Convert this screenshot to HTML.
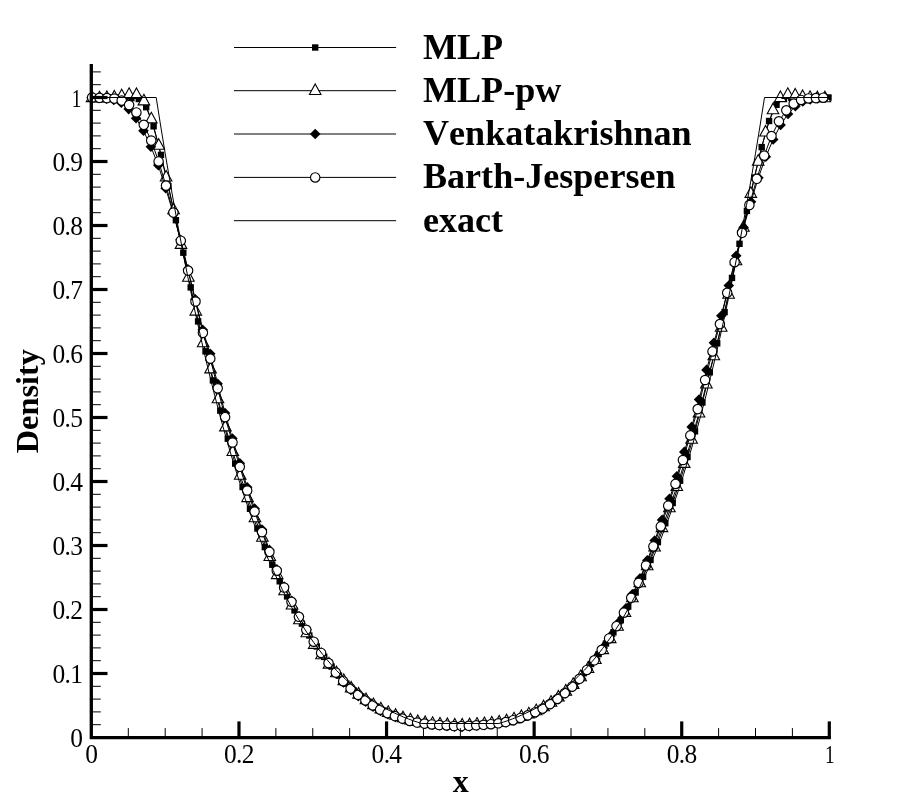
<!DOCTYPE html><html><head><meta charset="utf-8"><style>html,body{margin:0;padding:0;background:#fff}text{font-kerning:none}body{width:903px;height:803px;position:relative;overflow:hidden;font-family:"Liberation Serif",serif}</style></head><body>
<svg width="903" height="803" viewBox="0 0 903 803" style="position:absolute;left:0;top:0;will-change:transform">
<rect width="903" height="803" fill="#fff"/>
<polyline fill="none" stroke="#000" stroke-width="1" points="94.3,97.5 101.7,97.5 109.1,97.5 116.5,97.6 123.9,97.7 131.4,98.1 138.8,99.0 146.2,107.2 153.6,126.3 161.0,154.9 168.4,186.2 175.9,220.2 183.3,252.7 190.7,287.4 198.1,321.4 205.5,351.3 212.9,380.4 220.3,410.6 227.8,438.7 235.2,463.6 242.6,487.0 250.0,508.8 257.4,528.5 264.8,547.1 272.3,564.7 279.7,581.3 287.1,596.4 294.5,610.4 301.9,623.6 309.3,635.5 316.8,646.5 324.2,656.9 331.6,666.6 339.0,675.6 346.4,683.6 353.8,690.5 361.3,696.4 368.7,701.8 376.1,706.5 383.5,710.5 390.9,713.9 398.3,716.8 405.7,719.3 413.2,721.4 420.6,723.0 428.0,723.9 435.4,724.4 442.8,724.9 450.2,725.3 457.7,725.6 465.1,725.5 472.5,725.1 479.9,724.8 487.3,724.3 494.7,723.7 502.2,722.7 509.6,720.9 517.0,718.7 524.4,716.1 531.8,713.1 539.2,709.5 546.6,705.3 554.1,700.4 561.5,694.9 568.9,688.7 576.3,681.6 583.7,673.2 591.1,664.0 598.6,654.1 606.0,643.5 613.4,632.4 620.8,620.2 628.2,606.6 635.6,592.5 643.1,576.9 650.5,560.0 657.9,542.1 665.3,523.2 672.7,503.0 680.1,480.7 687.5,457.0 695.0,431.3 702.4,402.5 709.8,372.3 717.2,343.3 724.6,312.1 732.0,277.9 739.5,243.8 746.9,210.9 754.3,177.6 761.7,147.1 769.1,121.0 776.5,104.8 784.0,98.7 791.4,97.9 798.8,97.7 806.2,97.5 813.6,97.5 821.0,97.5 828.5,97.5"/>
<rect x="91.1" y="94.3" width="6.4" height="6.4" fill="#000"/>
<rect x="98.5" y="94.3" width="6.4" height="6.4" fill="#000"/>
<rect x="105.9" y="94.3" width="6.4" height="6.4" fill="#000"/>
<rect x="113.3" y="94.4" width="6.4" height="6.4" fill="#000"/>
<rect x="120.7" y="94.5" width="6.4" height="6.4" fill="#000"/>
<rect x="128.2" y="94.9" width="6.4" height="6.4" fill="#000"/>
<rect x="135.6" y="95.8" width="6.4" height="6.4" fill="#000"/>
<rect x="143.0" y="104.0" width="6.4" height="6.4" fill="#000"/>
<rect x="150.4" y="123.1" width="6.4" height="6.4" fill="#000"/>
<rect x="157.8" y="151.7" width="6.4" height="6.4" fill="#000"/>
<rect x="165.2" y="183.0" width="6.4" height="6.4" fill="#000"/>
<rect x="172.7" y="217.0" width="6.4" height="6.4" fill="#000"/>
<rect x="180.1" y="249.5" width="6.4" height="6.4" fill="#000"/>
<rect x="187.5" y="284.2" width="6.4" height="6.4" fill="#000"/>
<rect x="194.9" y="318.2" width="6.4" height="6.4" fill="#000"/>
<rect x="202.3" y="348.1" width="6.4" height="6.4" fill="#000"/>
<rect x="209.7" y="377.2" width="6.4" height="6.4" fill="#000"/>
<rect x="217.1" y="407.4" width="6.4" height="6.4" fill="#000"/>
<rect x="224.6" y="435.5" width="6.4" height="6.4" fill="#000"/>
<rect x="232.0" y="460.4" width="6.4" height="6.4" fill="#000"/>
<rect x="239.4" y="483.8" width="6.4" height="6.4" fill="#000"/>
<rect x="246.8" y="505.6" width="6.4" height="6.4" fill="#000"/>
<rect x="254.2" y="525.3" width="6.4" height="6.4" fill="#000"/>
<rect x="261.6" y="543.9" width="6.4" height="6.4" fill="#000"/>
<rect x="269.1" y="561.5" width="6.4" height="6.4" fill="#000"/>
<rect x="276.5" y="578.1" width="6.4" height="6.4" fill="#000"/>
<rect x="283.9" y="593.2" width="6.4" height="6.4" fill="#000"/>
<rect x="291.3" y="607.2" width="6.4" height="6.4" fill="#000"/>
<rect x="298.7" y="620.4" width="6.4" height="6.4" fill="#000"/>
<rect x="306.1" y="632.3" width="6.4" height="6.4" fill="#000"/>
<rect x="313.6" y="643.3" width="6.4" height="6.4" fill="#000"/>
<rect x="321.0" y="653.7" width="6.4" height="6.4" fill="#000"/>
<rect x="328.4" y="663.4" width="6.4" height="6.4" fill="#000"/>
<rect x="335.8" y="672.4" width="6.4" height="6.4" fill="#000"/>
<rect x="343.2" y="680.4" width="6.4" height="6.4" fill="#000"/>
<rect x="350.6" y="687.3" width="6.4" height="6.4" fill="#000"/>
<rect x="358.1" y="693.2" width="6.4" height="6.4" fill="#000"/>
<rect x="365.5" y="698.6" width="6.4" height="6.4" fill="#000"/>
<rect x="372.9" y="703.3" width="6.4" height="6.4" fill="#000"/>
<rect x="380.3" y="707.3" width="6.4" height="6.4" fill="#000"/>
<rect x="387.7" y="710.7" width="6.4" height="6.4" fill="#000"/>
<rect x="395.1" y="713.6" width="6.4" height="6.4" fill="#000"/>
<rect x="402.5" y="716.1" width="6.4" height="6.4" fill="#000"/>
<rect x="410.0" y="718.2" width="6.4" height="6.4" fill="#000"/>
<rect x="417.4" y="719.8" width="6.4" height="6.4" fill="#000"/>
<rect x="424.8" y="720.7" width="6.4" height="6.4" fill="#000"/>
<rect x="432.2" y="721.2" width="6.4" height="6.4" fill="#000"/>
<rect x="439.6" y="721.7" width="6.4" height="6.4" fill="#000"/>
<rect x="447.0" y="722.1" width="6.4" height="6.4" fill="#000"/>
<rect x="454.5" y="722.4" width="6.4" height="6.4" fill="#000"/>
<rect x="461.9" y="722.3" width="6.4" height="6.4" fill="#000"/>
<rect x="469.3" y="721.9" width="6.4" height="6.4" fill="#000"/>
<rect x="476.7" y="721.6" width="6.4" height="6.4" fill="#000"/>
<rect x="484.1" y="721.1" width="6.4" height="6.4" fill="#000"/>
<rect x="491.5" y="720.5" width="6.4" height="6.4" fill="#000"/>
<rect x="499.0" y="719.5" width="6.4" height="6.4" fill="#000"/>
<rect x="506.4" y="717.7" width="6.4" height="6.4" fill="#000"/>
<rect x="513.8" y="715.5" width="6.4" height="6.4" fill="#000"/>
<rect x="521.2" y="712.9" width="6.4" height="6.4" fill="#000"/>
<rect x="528.6" y="709.9" width="6.4" height="6.4" fill="#000"/>
<rect x="536.0" y="706.3" width="6.4" height="6.4" fill="#000"/>
<rect x="543.4" y="702.1" width="6.4" height="6.4" fill="#000"/>
<rect x="550.9" y="697.2" width="6.4" height="6.4" fill="#000"/>
<rect x="558.3" y="691.7" width="6.4" height="6.4" fill="#000"/>
<rect x="565.7" y="685.5" width="6.4" height="6.4" fill="#000"/>
<rect x="573.1" y="678.4" width="6.4" height="6.4" fill="#000"/>
<rect x="580.5" y="670.0" width="6.4" height="6.4" fill="#000"/>
<rect x="587.9" y="660.8" width="6.4" height="6.4" fill="#000"/>
<rect x="595.4" y="650.9" width="6.4" height="6.4" fill="#000"/>
<rect x="602.8" y="640.3" width="6.4" height="6.4" fill="#000"/>
<rect x="610.2" y="629.2" width="6.4" height="6.4" fill="#000"/>
<rect x="617.6" y="617.0" width="6.4" height="6.4" fill="#000"/>
<rect x="625.0" y="603.4" width="6.4" height="6.4" fill="#000"/>
<rect x="632.4" y="589.3" width="6.4" height="6.4" fill="#000"/>
<rect x="639.9" y="573.7" width="6.4" height="6.4" fill="#000"/>
<rect x="647.3" y="556.8" width="6.4" height="6.4" fill="#000"/>
<rect x="654.7" y="538.9" width="6.4" height="6.4" fill="#000"/>
<rect x="662.1" y="520.0" width="6.4" height="6.4" fill="#000"/>
<rect x="669.5" y="499.8" width="6.4" height="6.4" fill="#000"/>
<rect x="676.9" y="477.5" width="6.4" height="6.4" fill="#000"/>
<rect x="684.3" y="453.8" width="6.4" height="6.4" fill="#000"/>
<rect x="691.8" y="428.1" width="6.4" height="6.4" fill="#000"/>
<rect x="699.2" y="399.3" width="6.4" height="6.4" fill="#000"/>
<rect x="706.6" y="369.1" width="6.4" height="6.4" fill="#000"/>
<rect x="714.0" y="340.1" width="6.4" height="6.4" fill="#000"/>
<rect x="721.4" y="308.9" width="6.4" height="6.4" fill="#000"/>
<rect x="728.8" y="274.7" width="6.4" height="6.4" fill="#000"/>
<rect x="736.3" y="240.6" width="6.4" height="6.4" fill="#000"/>
<rect x="743.7" y="207.7" width="6.4" height="6.4" fill="#000"/>
<rect x="751.1" y="174.4" width="6.4" height="6.4" fill="#000"/>
<rect x="758.5" y="143.9" width="6.4" height="6.4" fill="#000"/>
<rect x="765.9" y="117.8" width="6.4" height="6.4" fill="#000"/>
<rect x="773.3" y="101.6" width="6.4" height="6.4" fill="#000"/>
<rect x="780.8" y="95.5" width="6.4" height="6.4" fill="#000"/>
<rect x="788.2" y="94.7" width="6.4" height="6.4" fill="#000"/>
<rect x="795.6" y="94.5" width="6.4" height="6.4" fill="#000"/>
<rect x="803.0" y="94.3" width="6.4" height="6.4" fill="#000"/>
<rect x="810.4" y="94.3" width="6.4" height="6.4" fill="#000"/>
<rect x="817.8" y="94.3" width="6.4" height="6.4" fill="#000"/>
<rect x="825.3" y="94.3" width="6.4" height="6.4" fill="#000"/>
<polyline fill="none" stroke="#000" stroke-width="1" points="92.1,97.8 99.5,98.1 106.9,97.8 114.3,97.3 121.7,96.0 129.1,94.6 136.5,94.7 143.9,101.1 151.3,119.1 158.7,145.5 166.1,177.2 173.6,210.0 181.0,244.6 188.4,277.4 195.8,311.3 203.2,343.0 210.6,369.1 218.0,399.0 225.4,427.1 232.8,451.7 240.2,475.4 247.6,497.8 255.0,518.0 262.4,537.5 269.8,556.7 277.2,574.8 284.6,590.9 292.0,605.2 299.4,620.0 306.8,632.9 314.2,644.6 321.6,655.0 329.0,664.3 336.4,672.9 343.8,680.8 351.2,688.2 358.6,694.3 366.0,699.9 373.4,704.9 380.8,709.1 388.2,712.6 395.6,715.5 403.0,718.0 410.4,720.1 417.8,721.7 425.2,722.8 432.6,723.6 440.0,724.2 447.4,724.7 454.8,725.2 462.2,725.3 469.6,725.0 477.0,724.4 484.4,723.9 491.8,723.2 499.2,722.3 506.6,721.0 514.0,719.1 521.4,716.7 528.8,714.1 536.2,710.9 543.6,707.0 551.0,702.4 558.4,697.2 565.8,691.3 573.2,684.6 580.6,676.9 588.0,668.7 595.4,659.7 602.8,649.8 610.2,638.8 617.6,626.5 625.0,612.7 632.4,598.0 639.8,583.0 647.2,565.9 654.6,547.2 662.0,527.8 669.4,508.0 676.8,486.7 684.2,463.6 691.6,439.4 699.0,413.2 706.4,384.2 713.8,356.0 721.2,327.4 728.6,294.4 736.0,261.0 743.4,227.4 750.8,193.6 758.2,161.4 765.6,132.2 773.0,110.0 780.4,97.8 787.8,94.6 795.2,95.3 802.6,96.7 810.0,97.6 817.4,98.0 824.9,98.0"/>
<path d="M92.1 91.0L97.9 101.6L86.3 101.6Z" fill="#fff" stroke="#000" stroke-width="1.1"/>
<path d="M99.5 91.3L105.3 101.9L93.7 101.9Z" fill="#fff" stroke="#000" stroke-width="1.1"/>
<path d="M106.9 91.0L112.7 101.6L101.1 101.6Z" fill="#fff" stroke="#000" stroke-width="1.1"/>
<path d="M114.3 90.5L120.1 101.1L108.5 101.1Z" fill="#fff" stroke="#000" stroke-width="1.1"/>
<path d="M121.7 89.2L127.5 99.8L115.9 99.8Z" fill="#fff" stroke="#000" stroke-width="1.1"/>
<path d="M129.1 87.8L134.9 98.4L123.3 98.4Z" fill="#fff" stroke="#000" stroke-width="1.1"/>
<path d="M136.5 87.9L142.3 98.5L130.7 98.5Z" fill="#fff" stroke="#000" stroke-width="1.1"/>
<path d="M143.9 94.3L149.7 104.9L138.1 104.9Z" fill="#fff" stroke="#000" stroke-width="1.1"/>
<path d="M151.3 112.3L157.1 122.9L145.5 122.9Z" fill="#fff" stroke="#000" stroke-width="1.1"/>
<path d="M158.7 138.7L164.5 149.3L152.9 149.3Z" fill="#fff" stroke="#000" stroke-width="1.1"/>
<path d="M166.1 170.4L171.9 181.0L160.3 181.0Z" fill="#fff" stroke="#000" stroke-width="1.1"/>
<path d="M173.6 203.2L179.4 213.8L167.8 213.8Z" fill="#fff" stroke="#000" stroke-width="1.1"/>
<path d="M181.0 237.8L186.8 248.4L175.2 248.4Z" fill="#fff" stroke="#000" stroke-width="1.1"/>
<path d="M188.4 270.6L194.2 281.2L182.6 281.2Z" fill="#fff" stroke="#000" stroke-width="1.1"/>
<path d="M195.8 304.5L201.6 315.1L190.0 315.1Z" fill="#fff" stroke="#000" stroke-width="1.1"/>
<path d="M203.2 336.2L209.0 346.8L197.4 346.8Z" fill="#fff" stroke="#000" stroke-width="1.1"/>
<path d="M210.6 362.3L216.4 372.9L204.8 372.9Z" fill="#fff" stroke="#000" stroke-width="1.1"/>
<path d="M218.0 392.2L223.8 402.8L212.2 402.8Z" fill="#fff" stroke="#000" stroke-width="1.1"/>
<path d="M225.4 420.3L231.2 430.9L219.6 430.9Z" fill="#fff" stroke="#000" stroke-width="1.1"/>
<path d="M232.8 444.9L238.6 455.5L227.0 455.5Z" fill="#fff" stroke="#000" stroke-width="1.1"/>
<path d="M240.2 468.6L246.0 479.2L234.4 479.2Z" fill="#fff" stroke="#000" stroke-width="1.1"/>
<path d="M247.6 491.0L253.4 501.6L241.8 501.6Z" fill="#fff" stroke="#000" stroke-width="1.1"/>
<path d="M255.0 511.2L260.8 521.8L249.2 521.8Z" fill="#fff" stroke="#000" stroke-width="1.1"/>
<path d="M262.4 530.7L268.2 541.3L256.6 541.3Z" fill="#fff" stroke="#000" stroke-width="1.1"/>
<path d="M269.8 549.9L275.6 560.5L264.0 560.5Z" fill="#fff" stroke="#000" stroke-width="1.1"/>
<path d="M277.2 568.0L283.0 578.6L271.4 578.6Z" fill="#fff" stroke="#000" stroke-width="1.1"/>
<path d="M284.6 584.1L290.4 594.7L278.8 594.7Z" fill="#fff" stroke="#000" stroke-width="1.1"/>
<path d="M292.0 598.4L297.8 609.0L286.2 609.0Z" fill="#fff" stroke="#000" stroke-width="1.1"/>
<path d="M299.4 613.2L305.2 623.8L293.6 623.8Z" fill="#fff" stroke="#000" stroke-width="1.1"/>
<path d="M306.8 626.1L312.6 636.7L301.0 636.7Z" fill="#fff" stroke="#000" stroke-width="1.1"/>
<path d="M314.2 637.8L320.0 648.4L308.4 648.4Z" fill="#fff" stroke="#000" stroke-width="1.1"/>
<path d="M321.6 648.2L327.4 658.8L315.8 658.8Z" fill="#fff" stroke="#000" stroke-width="1.1"/>
<path d="M329.0 657.5L334.8 668.1L323.2 668.1Z" fill="#fff" stroke="#000" stroke-width="1.1"/>
<path d="M336.4 666.1L342.2 676.7L330.6 676.7Z" fill="#fff" stroke="#000" stroke-width="1.1"/>
<path d="M343.8 674.0L349.6 684.6L338.0 684.6Z" fill="#fff" stroke="#000" stroke-width="1.1"/>
<path d="M351.2 681.4L357.0 692.0L345.4 692.0Z" fill="#fff" stroke="#000" stroke-width="1.1"/>
<path d="M358.6 687.5L364.4 698.1L352.8 698.1Z" fill="#fff" stroke="#000" stroke-width="1.1"/>
<path d="M366.0 693.1L371.8 703.7L360.2 703.7Z" fill="#fff" stroke="#000" stroke-width="1.1"/>
<path d="M373.4 698.1L379.2 708.7L367.6 708.7Z" fill="#fff" stroke="#000" stroke-width="1.1"/>
<path d="M380.8 702.3L386.6 712.9L375.0 712.9Z" fill="#fff" stroke="#000" stroke-width="1.1"/>
<path d="M388.2 705.8L394.0 716.4L382.4 716.4Z" fill="#fff" stroke="#000" stroke-width="1.1"/>
<path d="M395.6 708.7L401.4 719.3L389.8 719.3Z" fill="#fff" stroke="#000" stroke-width="1.1"/>
<path d="M403.0 711.2L408.8 721.8L397.2 721.8Z" fill="#fff" stroke="#000" stroke-width="1.1"/>
<path d="M410.4 713.3L416.2 723.9L404.6 723.9Z" fill="#fff" stroke="#000" stroke-width="1.1"/>
<path d="M417.8 714.9L423.6 725.5L412.0 725.5Z" fill="#fff" stroke="#000" stroke-width="1.1"/>
<path d="M425.2 716.0L431.0 726.6L419.4 726.6Z" fill="#fff" stroke="#000" stroke-width="1.1"/>
<path d="M432.6 716.8L438.4 727.4L426.8 727.4Z" fill="#fff" stroke="#000" stroke-width="1.1"/>
<path d="M440.0 717.4L445.8 728.0L434.2 728.0Z" fill="#fff" stroke="#000" stroke-width="1.1"/>
<path d="M447.4 717.9L453.2 728.5L441.6 728.5Z" fill="#fff" stroke="#000" stroke-width="1.1"/>
<path d="M454.8 718.4L460.6 729.0L449.0 729.0Z" fill="#fff" stroke="#000" stroke-width="1.1"/>
<path d="M462.2 718.5L468.0 729.1L456.4 729.1Z" fill="#fff" stroke="#000" stroke-width="1.1"/>
<path d="M469.6 718.2L475.4 728.8L463.8 728.8Z" fill="#fff" stroke="#000" stroke-width="1.1"/>
<path d="M477.0 717.6L482.8 728.2L471.2 728.2Z" fill="#fff" stroke="#000" stroke-width="1.1"/>
<path d="M484.4 717.1L490.2 727.7L478.6 727.7Z" fill="#fff" stroke="#000" stroke-width="1.1"/>
<path d="M491.8 716.4L497.6 727.0L486.0 727.0Z" fill="#fff" stroke="#000" stroke-width="1.1"/>
<path d="M499.2 715.5L505.0 726.1L493.4 726.1Z" fill="#fff" stroke="#000" stroke-width="1.1"/>
<path d="M506.6 714.2L512.4 724.8L500.8 724.8Z" fill="#fff" stroke="#000" stroke-width="1.1"/>
<path d="M514.0 712.3L519.8 722.9L508.2 722.9Z" fill="#fff" stroke="#000" stroke-width="1.1"/>
<path d="M521.4 709.9L527.2 720.5L515.6 720.5Z" fill="#fff" stroke="#000" stroke-width="1.1"/>
<path d="M528.8 707.3L534.6 717.9L523.0 717.9Z" fill="#fff" stroke="#000" stroke-width="1.1"/>
<path d="M536.2 704.1L542.0 714.7L530.4 714.7Z" fill="#fff" stroke="#000" stroke-width="1.1"/>
<path d="M543.6 700.2L549.4 710.8L537.8 710.8Z" fill="#fff" stroke="#000" stroke-width="1.1"/>
<path d="M551.0 695.6L556.8 706.2L545.2 706.2Z" fill="#fff" stroke="#000" stroke-width="1.1"/>
<path d="M558.4 690.4L564.2 701.0L552.6 701.0Z" fill="#fff" stroke="#000" stroke-width="1.1"/>
<path d="M565.8 684.5L571.6 695.1L560.0 695.1Z" fill="#fff" stroke="#000" stroke-width="1.1"/>
<path d="M573.2 677.8L579.0 688.4L567.4 688.4Z" fill="#fff" stroke="#000" stroke-width="1.1"/>
<path d="M580.6 670.1L586.4 680.7L574.8 680.7Z" fill="#fff" stroke="#000" stroke-width="1.1"/>
<path d="M588.0 661.9L593.8 672.5L582.2 672.5Z" fill="#fff" stroke="#000" stroke-width="1.1"/>
<path d="M595.4 652.9L601.2 663.5L589.6 663.5Z" fill="#fff" stroke="#000" stroke-width="1.1"/>
<path d="M602.8 643.0L608.6 653.6L597.0 653.6Z" fill="#fff" stroke="#000" stroke-width="1.1"/>
<path d="M610.2 632.0L616.0 642.6L604.4 642.6Z" fill="#fff" stroke="#000" stroke-width="1.1"/>
<path d="M617.6 619.7L623.4 630.3L611.8 630.3Z" fill="#fff" stroke="#000" stroke-width="1.1"/>
<path d="M625.0 605.9L630.8 616.5L619.2 616.5Z" fill="#fff" stroke="#000" stroke-width="1.1"/>
<path d="M632.4 591.2L638.2 601.8L626.6 601.8Z" fill="#fff" stroke="#000" stroke-width="1.1"/>
<path d="M639.8 576.2L645.6 586.8L634.0 586.8Z" fill="#fff" stroke="#000" stroke-width="1.1"/>
<path d="M647.2 559.1L653.0 569.7L641.4 569.7Z" fill="#fff" stroke="#000" stroke-width="1.1"/>
<path d="M654.6 540.4L660.4 551.0L648.8 551.0Z" fill="#fff" stroke="#000" stroke-width="1.1"/>
<path d="M662.0 521.0L667.8 531.6L656.2 531.6Z" fill="#fff" stroke="#000" stroke-width="1.1"/>
<path d="M669.4 501.2L675.2 511.8L663.6 511.8Z" fill="#fff" stroke="#000" stroke-width="1.1"/>
<path d="M676.8 479.9L682.6 490.5L671.0 490.5Z" fill="#fff" stroke="#000" stroke-width="1.1"/>
<path d="M684.2 456.8L690.0 467.4L678.4 467.4Z" fill="#fff" stroke="#000" stroke-width="1.1"/>
<path d="M691.6 432.6L697.4 443.2L685.8 443.2Z" fill="#fff" stroke="#000" stroke-width="1.1"/>
<path d="M699.0 406.4L704.8 417.0L693.2 417.0Z" fill="#fff" stroke="#000" stroke-width="1.1"/>
<path d="M706.4 377.4L712.2 388.0L700.6 388.0Z" fill="#fff" stroke="#000" stroke-width="1.1"/>
<path d="M713.8 349.2L719.6 359.8L708.0 359.8Z" fill="#fff" stroke="#000" stroke-width="1.1"/>
<path d="M721.2 320.6L727.0 331.2L715.4 331.2Z" fill="#fff" stroke="#000" stroke-width="1.1"/>
<path d="M728.6 287.6L734.4 298.2L722.8 298.2Z" fill="#fff" stroke="#000" stroke-width="1.1"/>
<path d="M736.0 254.2L741.8 264.8L730.2 264.8Z" fill="#fff" stroke="#000" stroke-width="1.1"/>
<path d="M743.4 220.6L749.2 231.2L737.6 231.2Z" fill="#fff" stroke="#000" stroke-width="1.1"/>
<path d="M750.8 186.8L756.6 197.4L745.0 197.4Z" fill="#fff" stroke="#000" stroke-width="1.1"/>
<path d="M758.2 154.6L764.0 165.2L752.4 165.2Z" fill="#fff" stroke="#000" stroke-width="1.1"/>
<path d="M765.6 125.4L771.4 136.0L759.8 136.0Z" fill="#fff" stroke="#000" stroke-width="1.1"/>
<path d="M773.0 103.2L778.8 113.8L767.2 113.8Z" fill="#fff" stroke="#000" stroke-width="1.1"/>
<path d="M780.4 91.0L786.2 101.6L774.6 101.6Z" fill="#fff" stroke="#000" stroke-width="1.1"/>
<path d="M787.8 87.8L793.6 98.4L782.0 98.4Z" fill="#fff" stroke="#000" stroke-width="1.1"/>
<path d="M795.2 88.5L801.0 99.1L789.4 99.1Z" fill="#fff" stroke="#000" stroke-width="1.1"/>
<path d="M802.6 89.9L808.4 100.5L796.8 100.5Z" fill="#fff" stroke="#000" stroke-width="1.1"/>
<path d="M810.0 90.8L815.8 101.4L804.2 101.4Z" fill="#fff" stroke="#000" stroke-width="1.1"/>
<path d="M817.4 91.2L823.2 101.8L811.6 101.8Z" fill="#fff" stroke="#000" stroke-width="1.1"/>
<path d="M824.9 91.2L830.7 101.8L819.1 101.8Z" fill="#fff" stroke="#000" stroke-width="1.1"/>
<polyline fill="none" stroke="#000" stroke-width="1" points="91.6,97.5 99.0,98.1 106.4,98.7 113.8,100.0 121.3,102.8 128.7,109.1 136.1,118.3 143.5,130.8 150.9,146.7 158.3,165.3 165.7,188.3 173.1,213.0 180.5,239.8 187.9,269.3 195.3,299.3 202.7,329.8 210.2,353.8 217.6,383.7 225.0,413.1 232.4,438.6 239.8,463.2 247.2,487.3 254.6,508.6 262.0,529.5 269.4,549.9 276.8,569.3 284.2,586.5 291.7,600.9 299.1,616.4 306.5,629.7 313.9,641.9 321.3,653.3 328.7,663.8 336.1,673.5 343.5,682.4 350.9,690.0 358.3,696.2 365.7,701.8 373.1,706.8 380.6,711.0 388.0,714.3 395.4,717.0 402.8,719.3 410.2,721.3 417.6,722.7 425.0,723.7 432.4,724.7 439.8,725.4 447.2,726.0 454.6,726.7 462.0,726.9 469.5,726.5 476.9,725.8 484.3,725.1 491.7,724.3 499.1,723.1 506.5,722.1 513.9,720.4 521.3,718.3 528.7,715.8 536.1,712.8 543.5,709.1 550.9,704.5 558.4,699.2 565.8,693.4 573.2,686.6 580.6,678.4 588.0,669.1 595.4,659.0 602.8,648.1 610.2,636.3 617.6,623.6 625.0,609.4 632.4,594.3 639.9,578.6 647.3,560.4 654.7,540.5 662.1,519.9 669.5,498.8 676.9,476.2 684.3,451.9 691.7,426.9 699.1,399.6 706.5,369.9 713.9,342.8 721.3,315.8 728.8,285.6 736.2,255.8 743.6,227.5 751.0,201.7 758.4,177.7 765.8,156.8 773.2,139.4 780.6,125.0 788.0,114.0 795.4,106.2 802.8,101.5 810.2,99.4 817.7,98.4 825.1,97.8"/>
<path d="M91.6 92.2L96.9 97.5L91.6 102.8L86.3 97.5Z" fill="#000"/>
<path d="M99.0 92.8L104.3 98.1L99.0 103.4L93.7 98.1Z" fill="#000"/>
<path d="M106.4 93.4L111.7 98.7L106.4 104.0L101.1 98.7Z" fill="#000"/>
<path d="M113.8 94.7L119.1 100.0L113.8 105.3L108.5 100.0Z" fill="#000"/>
<path d="M121.3 97.5L126.6 102.8L121.3 108.1L116.0 102.8Z" fill="#000"/>
<path d="M128.7 103.8L134.0 109.1L128.7 114.4L123.4 109.1Z" fill="#000"/>
<path d="M136.1 113.0L141.4 118.3L136.1 123.6L130.8 118.3Z" fill="#000"/>
<path d="M143.5 125.5L148.8 130.8L143.5 136.1L138.2 130.8Z" fill="#000"/>
<path d="M150.9 141.4L156.2 146.7L150.9 152.0L145.6 146.7Z" fill="#000"/>
<path d="M158.3 160.0L163.6 165.3L158.3 170.6L153.0 165.3Z" fill="#000"/>
<path d="M165.7 183.0L171.0 188.3L165.7 193.6L160.4 188.3Z" fill="#000"/>
<path d="M173.1 207.7L178.4 213.0L173.1 218.3L167.8 213.0Z" fill="#000"/>
<path d="M180.5 234.5L185.8 239.8L180.5 245.1L175.2 239.8Z" fill="#000"/>
<path d="M187.9 264.0L193.2 269.3L187.9 274.6L182.6 269.3Z" fill="#000"/>
<path d="M195.3 294.0L200.6 299.3L195.3 304.6L190.0 299.3Z" fill="#000"/>
<path d="M202.7 324.5L208.0 329.8L202.7 335.1L197.4 329.8Z" fill="#000"/>
<path d="M210.2 348.5L215.5 353.8L210.2 359.1L204.9 353.8Z" fill="#000"/>
<path d="M217.6 378.4L222.9 383.7L217.6 389.0L212.3 383.7Z" fill="#000"/>
<path d="M225.0 407.8L230.3 413.1L225.0 418.4L219.7 413.1Z" fill="#000"/>
<path d="M232.4 433.3L237.7 438.6L232.4 443.9L227.1 438.6Z" fill="#000"/>
<path d="M239.8 457.9L245.1 463.2L239.8 468.5L234.5 463.2Z" fill="#000"/>
<path d="M247.2 482.0L252.5 487.3L247.2 492.6L241.9 487.3Z" fill="#000"/>
<path d="M254.6 503.3L259.9 508.6L254.6 513.9L249.3 508.6Z" fill="#000"/>
<path d="M262.0 524.2L267.3 529.5L262.0 534.8L256.7 529.5Z" fill="#000"/>
<path d="M269.4 544.6L274.7 549.9L269.4 555.2L264.1 549.9Z" fill="#000"/>
<path d="M276.8 564.0L282.1 569.3L276.8 574.6L271.5 569.3Z" fill="#000"/>
<path d="M284.2 581.2L289.5 586.5L284.2 591.8L278.9 586.5Z" fill="#000"/>
<path d="M291.7 595.6L297.0 600.9L291.7 606.2L286.4 600.9Z" fill="#000"/>
<path d="M299.1 611.1L304.4 616.4L299.1 621.7L293.8 616.4Z" fill="#000"/>
<path d="M306.5 624.4L311.8 629.7L306.5 635.0L301.2 629.7Z" fill="#000"/>
<path d="M313.9 636.6L319.2 641.9L313.9 647.2L308.6 641.9Z" fill="#000"/>
<path d="M321.3 648.0L326.6 653.3L321.3 658.6L316.0 653.3Z" fill="#000"/>
<path d="M328.7 658.5L334.0 663.8L328.7 669.1L323.4 663.8Z" fill="#000"/>
<path d="M336.1 668.2L341.4 673.5L336.1 678.8L330.8 673.5Z" fill="#000"/>
<path d="M343.5 677.1L348.8 682.4L343.5 687.7L338.2 682.4Z" fill="#000"/>
<path d="M350.9 684.7L356.2 690.0L350.9 695.3L345.6 690.0Z" fill="#000"/>
<path d="M358.3 690.9L363.6 696.2L358.3 701.5L353.0 696.2Z" fill="#000"/>
<path d="M365.7 696.5L371.0 701.8L365.7 707.1L360.4 701.8Z" fill="#000"/>
<path d="M373.1 701.5L378.4 706.8L373.1 712.1L367.8 706.8Z" fill="#000"/>
<path d="M380.6 705.7L385.9 711.0L380.6 716.3L375.3 711.0Z" fill="#000"/>
<path d="M388.0 709.0L393.3 714.3L388.0 719.6L382.7 714.3Z" fill="#000"/>
<path d="M395.4 711.7L400.7 717.0L395.4 722.3L390.1 717.0Z" fill="#000"/>
<path d="M402.8 714.0L408.1 719.3L402.8 724.6L397.5 719.3Z" fill="#000"/>
<path d="M410.2 716.0L415.5 721.3L410.2 726.6L404.9 721.3Z" fill="#000"/>
<path d="M417.6 717.4L422.9 722.7L417.6 728.0L412.3 722.7Z" fill="#000"/>
<path d="M425.0 718.4L430.3 723.7L425.0 729.0L419.7 723.7Z" fill="#000"/>
<path d="M432.4 719.4L437.7 724.7L432.4 730.0L427.1 724.7Z" fill="#000"/>
<path d="M439.8 720.1L445.1 725.4L439.8 730.7L434.5 725.4Z" fill="#000"/>
<path d="M447.2 720.7L452.5 726.0L447.2 731.3L441.9 726.0Z" fill="#000"/>
<path d="M454.6 721.4L459.9 726.7L454.6 732.0L449.3 726.7Z" fill="#000"/>
<path d="M462.0 721.6L467.3 726.9L462.0 732.2L456.7 726.9Z" fill="#000"/>
<path d="M469.5 721.2L474.8 726.5L469.5 731.8L464.2 726.5Z" fill="#000"/>
<path d="M476.9 720.5L482.2 725.8L476.9 731.1L471.6 725.8Z" fill="#000"/>
<path d="M484.3 719.8L489.6 725.1L484.3 730.4L479.0 725.1Z" fill="#000"/>
<path d="M491.7 719.0L497.0 724.3L491.7 729.6L486.4 724.3Z" fill="#000"/>
<path d="M499.1 717.8L504.4 723.1L499.1 728.4L493.8 723.1Z" fill="#000"/>
<path d="M506.5 716.8L511.8 722.1L506.5 727.4L501.2 722.1Z" fill="#000"/>
<path d="M513.9 715.1L519.2 720.4L513.9 725.7L508.6 720.4Z" fill="#000"/>
<path d="M521.3 713.0L526.6 718.3L521.3 723.6L516.0 718.3Z" fill="#000"/>
<path d="M528.7 710.5L534.0 715.8L528.7 721.1L523.4 715.8Z" fill="#000"/>
<path d="M536.1 707.5L541.4 712.8L536.1 718.1L530.8 712.8Z" fill="#000"/>
<path d="M543.5 703.8L548.8 709.1L543.5 714.4L538.2 709.1Z" fill="#000"/>
<path d="M550.9 699.2L556.2 704.5L550.9 709.8L545.6 704.5Z" fill="#000"/>
<path d="M558.4 693.9L563.7 699.2L558.4 704.5L553.1 699.2Z" fill="#000"/>
<path d="M565.8 688.1L571.1 693.4L565.8 698.7L560.5 693.4Z" fill="#000"/>
<path d="M573.2 681.3L578.5 686.6L573.2 691.9L567.9 686.6Z" fill="#000"/>
<path d="M580.6 673.1L585.9 678.4L580.6 683.7L575.3 678.4Z" fill="#000"/>
<path d="M588.0 663.8L593.3 669.1L588.0 674.4L582.7 669.1Z" fill="#000"/>
<path d="M595.4 653.7L600.7 659.0L595.4 664.3L590.1 659.0Z" fill="#000"/>
<path d="M602.8 642.8L608.1 648.1L602.8 653.4L597.5 648.1Z" fill="#000"/>
<path d="M610.2 631.0L615.5 636.3L610.2 641.6L604.9 636.3Z" fill="#000"/>
<path d="M617.6 618.3L622.9 623.6L617.6 628.9L612.3 623.6Z" fill="#000"/>
<path d="M625.0 604.1L630.3 609.4L625.0 614.7L619.7 609.4Z" fill="#000"/>
<path d="M632.4 589.0L637.7 594.3L632.4 599.6L627.1 594.3Z" fill="#000"/>
<path d="M639.9 573.3L645.2 578.6L639.9 583.9L634.6 578.6Z" fill="#000"/>
<path d="M647.3 555.1L652.6 560.4L647.3 565.7L642.0 560.4Z" fill="#000"/>
<path d="M654.7 535.2L660.0 540.5L654.7 545.8L649.4 540.5Z" fill="#000"/>
<path d="M662.1 514.6L667.4 519.9L662.1 525.2L656.8 519.9Z" fill="#000"/>
<path d="M669.5 493.5L674.8 498.8L669.5 504.1L664.2 498.8Z" fill="#000"/>
<path d="M676.9 470.9L682.2 476.2L676.9 481.5L671.6 476.2Z" fill="#000"/>
<path d="M684.3 446.6L689.6 451.9L684.3 457.2L679.0 451.9Z" fill="#000"/>
<path d="M691.7 421.6L697.0 426.9L691.7 432.2L686.4 426.9Z" fill="#000"/>
<path d="M699.1 394.3L704.4 399.6L699.1 404.9L693.8 399.6Z" fill="#000"/>
<path d="M706.5 364.6L711.8 369.9L706.5 375.2L701.2 369.9Z" fill="#000"/>
<path d="M713.9 337.5L719.2 342.8L713.9 348.1L708.6 342.8Z" fill="#000"/>
<path d="M721.3 310.5L726.6 315.8L721.3 321.1L716.0 315.8Z" fill="#000"/>
<path d="M728.8 280.3L734.1 285.6L728.8 290.9L723.5 285.6Z" fill="#000"/>
<path d="M736.2 250.5L741.5 255.8L736.2 261.1L730.9 255.8Z" fill="#000"/>
<path d="M743.6 222.2L748.9 227.5L743.6 232.8L738.3 227.5Z" fill="#000"/>
<path d="M751.0 196.4L756.3 201.7L751.0 207.0L745.7 201.7Z" fill="#000"/>
<path d="M758.4 172.4L763.7 177.7L758.4 183.0L753.1 177.7Z" fill="#000"/>
<path d="M765.8 151.5L771.1 156.8L765.8 162.1L760.5 156.8Z" fill="#000"/>
<path d="M773.2 134.1L778.5 139.4L773.2 144.7L767.9 139.4Z" fill="#000"/>
<path d="M780.6 119.7L785.9 125.0L780.6 130.3L775.3 125.0Z" fill="#000"/>
<path d="M788.0 108.7L793.3 114.0L788.0 119.3L782.7 114.0Z" fill="#000"/>
<path d="M795.4 100.9L800.7 106.2L795.4 111.5L790.1 106.2Z" fill="#000"/>
<path d="M802.8 96.2L808.1 101.5L802.8 106.8L797.5 101.5Z" fill="#000"/>
<path d="M810.2 94.1L815.5 99.4L810.2 104.7L804.9 99.4Z" fill="#000"/>
<path d="M817.7 93.1L823.0 98.4L817.7 103.7L812.4 98.4Z" fill="#000"/>
<path d="M825.1 92.5L830.4 97.8L825.1 103.1L819.8 97.8Z" fill="#000"/>
<polyline fill="none" stroke="#000" stroke-width="1" points="92.1,97.5 99.5,97.8 106.9,98.1 114.3,98.5 121.7,100.5 129.1,105.0 136.4,112.4 143.8,124.8 151.2,140.5 158.6,161.4 166.0,185.6 173.4,212.5 180.8,240.7 188.1,270.6 195.5,301.5 202.9,332.8 210.3,358.6 217.7,388.3 225.1,417.2 232.5,442.5 239.8,466.8 247.2,490.5 254.6,511.6 262.0,532.1 269.4,551.9 276.8,570.7 284.1,587.5 291.5,601.8 298.9,616.8 306.3,629.8 313.7,641.7 321.1,652.9 328.5,663.1 335.8,672.5 343.2,681.2 350.6,688.6 358.0,694.8 365.4,700.4 372.8,705.4 380.1,709.7 387.5,713.2 394.9,716.1 402.3,718.6 409.7,720.9 417.1,722.5 424.5,723.6 431.8,724.4 439.2,725.0 446.6,725.4 454.0,726.0 461.4,726.1 468.8,725.8 476.2,725.3 483.5,724.8 490.9,724.2 498.3,723.3 505.7,722.1 513.1,720.2 520.5,717.9 527.8,715.3 535.2,712.2 542.6,708.5 550.0,704.0 557.4,698.9 564.8,693.1 572.2,686.6 579.5,678.8 586.9,669.9 594.3,660.3 601.7,649.8 609.1,638.4 616.5,626.2 623.9,612.7 631.2,597.8 638.6,582.9 646.0,565.5 653.4,546.4 660.8,526.4 668.2,505.7 675.5,483.9 682.9,460.0 690.3,435.4 697.7,409.1 705.1,380.0 712.5,351.4 719.9,324.1 727.2,292.8 734.6,262.2 742.0,232.8 749.4,205.0 756.8,178.8 764.2,155.6 771.5,136.1 778.9,121.3 786.3,110.3 793.7,103.7 801.1,99.9 808.5,98.4 815.9,98.1 823.2,97.7"/>
<circle cx="92.1" cy="97.5" r="4.7" fill="#fff" stroke="#000" stroke-width="1.15"/>
<circle cx="99.5" cy="97.8" r="4.7" fill="#fff" stroke="#000" stroke-width="1.15"/>
<circle cx="106.9" cy="98.1" r="4.7" fill="#fff" stroke="#000" stroke-width="1.15"/>
<circle cx="114.3" cy="98.5" r="4.7" fill="#fff" stroke="#000" stroke-width="1.15"/>
<circle cx="121.7" cy="100.5" r="4.7" fill="#fff" stroke="#000" stroke-width="1.15"/>
<circle cx="129.1" cy="105.0" r="4.7" fill="#fff" stroke="#000" stroke-width="1.15"/>
<circle cx="136.4" cy="112.4" r="4.7" fill="#fff" stroke="#000" stroke-width="1.15"/>
<circle cx="143.8" cy="124.8" r="4.7" fill="#fff" stroke="#000" stroke-width="1.15"/>
<circle cx="151.2" cy="140.5" r="4.7" fill="#fff" stroke="#000" stroke-width="1.15"/>
<circle cx="158.6" cy="161.4" r="4.7" fill="#fff" stroke="#000" stroke-width="1.15"/>
<circle cx="166.0" cy="185.6" r="4.7" fill="#fff" stroke="#000" stroke-width="1.15"/>
<circle cx="173.4" cy="212.5" r="4.7" fill="#fff" stroke="#000" stroke-width="1.15"/>
<circle cx="180.8" cy="240.7" r="4.7" fill="#fff" stroke="#000" stroke-width="1.15"/>
<circle cx="188.1" cy="270.6" r="4.7" fill="#fff" stroke="#000" stroke-width="1.15"/>
<circle cx="195.5" cy="301.5" r="4.7" fill="#fff" stroke="#000" stroke-width="1.15"/>
<circle cx="202.9" cy="332.8" r="4.7" fill="#fff" stroke="#000" stroke-width="1.15"/>
<circle cx="210.3" cy="358.6" r="4.7" fill="#fff" stroke="#000" stroke-width="1.15"/>
<circle cx="217.7" cy="388.3" r="4.7" fill="#fff" stroke="#000" stroke-width="1.15"/>
<circle cx="225.1" cy="417.2" r="4.7" fill="#fff" stroke="#000" stroke-width="1.15"/>
<circle cx="232.5" cy="442.5" r="4.7" fill="#fff" stroke="#000" stroke-width="1.15"/>
<circle cx="239.8" cy="466.8" r="4.7" fill="#fff" stroke="#000" stroke-width="1.15"/>
<circle cx="247.2" cy="490.5" r="4.7" fill="#fff" stroke="#000" stroke-width="1.15"/>
<circle cx="254.6" cy="511.6" r="4.7" fill="#fff" stroke="#000" stroke-width="1.15"/>
<circle cx="262.0" cy="532.1" r="4.7" fill="#fff" stroke="#000" stroke-width="1.15"/>
<circle cx="269.4" cy="551.9" r="4.7" fill="#fff" stroke="#000" stroke-width="1.15"/>
<circle cx="276.8" cy="570.7" r="4.7" fill="#fff" stroke="#000" stroke-width="1.15"/>
<circle cx="284.1" cy="587.5" r="4.7" fill="#fff" stroke="#000" stroke-width="1.15"/>
<circle cx="291.5" cy="601.8" r="4.7" fill="#fff" stroke="#000" stroke-width="1.15"/>
<circle cx="298.9" cy="616.8" r="4.7" fill="#fff" stroke="#000" stroke-width="1.15"/>
<circle cx="306.3" cy="629.8" r="4.7" fill="#fff" stroke="#000" stroke-width="1.15"/>
<circle cx="313.7" cy="641.7" r="4.7" fill="#fff" stroke="#000" stroke-width="1.15"/>
<circle cx="321.1" cy="652.9" r="4.7" fill="#fff" stroke="#000" stroke-width="1.15"/>
<circle cx="328.5" cy="663.1" r="4.7" fill="#fff" stroke="#000" stroke-width="1.15"/>
<circle cx="335.8" cy="672.5" r="4.7" fill="#fff" stroke="#000" stroke-width="1.15"/>
<circle cx="343.2" cy="681.2" r="4.7" fill="#fff" stroke="#000" stroke-width="1.15"/>
<circle cx="350.6" cy="688.6" r="4.7" fill="#fff" stroke="#000" stroke-width="1.15"/>
<circle cx="358.0" cy="694.8" r="4.7" fill="#fff" stroke="#000" stroke-width="1.15"/>
<circle cx="365.4" cy="700.4" r="4.7" fill="#fff" stroke="#000" stroke-width="1.15"/>
<circle cx="372.8" cy="705.4" r="4.7" fill="#fff" stroke="#000" stroke-width="1.15"/>
<circle cx="380.1" cy="709.7" r="4.7" fill="#fff" stroke="#000" stroke-width="1.15"/>
<circle cx="387.5" cy="713.2" r="4.7" fill="#fff" stroke="#000" stroke-width="1.15"/>
<circle cx="394.9" cy="716.1" r="4.7" fill="#fff" stroke="#000" stroke-width="1.15"/>
<circle cx="402.3" cy="718.6" r="4.7" fill="#fff" stroke="#000" stroke-width="1.15"/>
<circle cx="409.7" cy="720.9" r="4.7" fill="#fff" stroke="#000" stroke-width="1.15"/>
<circle cx="417.1" cy="722.5" r="4.7" fill="#fff" stroke="#000" stroke-width="1.15"/>
<circle cx="424.5" cy="723.6" r="4.7" fill="#fff" stroke="#000" stroke-width="1.15"/>
<circle cx="431.8" cy="724.4" r="4.7" fill="#fff" stroke="#000" stroke-width="1.15"/>
<circle cx="439.2" cy="725.0" r="4.7" fill="#fff" stroke="#000" stroke-width="1.15"/>
<circle cx="446.6" cy="725.4" r="4.7" fill="#fff" stroke="#000" stroke-width="1.15"/>
<circle cx="454.0" cy="726.0" r="4.7" fill="#fff" stroke="#000" stroke-width="1.15"/>
<circle cx="461.4" cy="726.1" r="4.7" fill="#fff" stroke="#000" stroke-width="1.15"/>
<circle cx="468.8" cy="725.8" r="4.7" fill="#fff" stroke="#000" stroke-width="1.15"/>
<circle cx="476.2" cy="725.3" r="4.7" fill="#fff" stroke="#000" stroke-width="1.15"/>
<circle cx="483.5" cy="724.8" r="4.7" fill="#fff" stroke="#000" stroke-width="1.15"/>
<circle cx="490.9" cy="724.2" r="4.7" fill="#fff" stroke="#000" stroke-width="1.15"/>
<circle cx="498.3" cy="723.3" r="4.7" fill="#fff" stroke="#000" stroke-width="1.15"/>
<circle cx="505.7" cy="722.1" r="4.7" fill="#fff" stroke="#000" stroke-width="1.15"/>
<circle cx="513.1" cy="720.2" r="4.7" fill="#fff" stroke="#000" stroke-width="1.15"/>
<circle cx="520.5" cy="717.9" r="4.7" fill="#fff" stroke="#000" stroke-width="1.15"/>
<circle cx="527.8" cy="715.3" r="4.7" fill="#fff" stroke="#000" stroke-width="1.15"/>
<circle cx="535.2" cy="712.2" r="4.7" fill="#fff" stroke="#000" stroke-width="1.15"/>
<circle cx="542.6" cy="708.5" r="4.7" fill="#fff" stroke="#000" stroke-width="1.15"/>
<circle cx="550.0" cy="704.0" r="4.7" fill="#fff" stroke="#000" stroke-width="1.15"/>
<circle cx="557.4" cy="698.9" r="4.7" fill="#fff" stroke="#000" stroke-width="1.15"/>
<circle cx="564.8" cy="693.1" r="4.7" fill="#fff" stroke="#000" stroke-width="1.15"/>
<circle cx="572.2" cy="686.6" r="4.7" fill="#fff" stroke="#000" stroke-width="1.15"/>
<circle cx="579.5" cy="678.8" r="4.7" fill="#fff" stroke="#000" stroke-width="1.15"/>
<circle cx="586.9" cy="669.9" r="4.7" fill="#fff" stroke="#000" stroke-width="1.15"/>
<circle cx="594.3" cy="660.3" r="4.7" fill="#fff" stroke="#000" stroke-width="1.15"/>
<circle cx="601.7" cy="649.8" r="4.7" fill="#fff" stroke="#000" stroke-width="1.15"/>
<circle cx="609.1" cy="638.4" r="4.7" fill="#fff" stroke="#000" stroke-width="1.15"/>
<circle cx="616.5" cy="626.2" r="4.7" fill="#fff" stroke="#000" stroke-width="1.15"/>
<circle cx="623.9" cy="612.7" r="4.7" fill="#fff" stroke="#000" stroke-width="1.15"/>
<circle cx="631.2" cy="597.8" r="4.7" fill="#fff" stroke="#000" stroke-width="1.15"/>
<circle cx="638.6" cy="582.9" r="4.7" fill="#fff" stroke="#000" stroke-width="1.15"/>
<circle cx="646.0" cy="565.5" r="4.7" fill="#fff" stroke="#000" stroke-width="1.15"/>
<circle cx="653.4" cy="546.4" r="4.7" fill="#fff" stroke="#000" stroke-width="1.15"/>
<circle cx="660.8" cy="526.4" r="4.7" fill="#fff" stroke="#000" stroke-width="1.15"/>
<circle cx="668.2" cy="505.7" r="4.7" fill="#fff" stroke="#000" stroke-width="1.15"/>
<circle cx="675.5" cy="483.9" r="4.7" fill="#fff" stroke="#000" stroke-width="1.15"/>
<circle cx="682.9" cy="460.0" r="4.7" fill="#fff" stroke="#000" stroke-width="1.15"/>
<circle cx="690.3" cy="435.4" r="4.7" fill="#fff" stroke="#000" stroke-width="1.15"/>
<circle cx="697.7" cy="409.1" r="4.7" fill="#fff" stroke="#000" stroke-width="1.15"/>
<circle cx="705.1" cy="380.0" r="4.7" fill="#fff" stroke="#000" stroke-width="1.15"/>
<circle cx="712.5" cy="351.4" r="4.7" fill="#fff" stroke="#000" stroke-width="1.15"/>
<circle cx="719.9" cy="324.1" r="4.7" fill="#fff" stroke="#000" stroke-width="1.15"/>
<circle cx="727.2" cy="292.8" r="4.7" fill="#fff" stroke="#000" stroke-width="1.15"/>
<circle cx="734.6" cy="262.2" r="4.7" fill="#fff" stroke="#000" stroke-width="1.15"/>
<circle cx="742.0" cy="232.8" r="4.7" fill="#fff" stroke="#000" stroke-width="1.15"/>
<circle cx="749.4" cy="205.0" r="4.7" fill="#fff" stroke="#000" stroke-width="1.15"/>
<circle cx="756.8" cy="178.8" r="4.7" fill="#fff" stroke="#000" stroke-width="1.15"/>
<circle cx="764.2" cy="155.6" r="4.7" fill="#fff" stroke="#000" stroke-width="1.15"/>
<circle cx="771.5" cy="136.1" r="4.7" fill="#fff" stroke="#000" stroke-width="1.15"/>
<circle cx="778.9" cy="121.3" r="4.7" fill="#fff" stroke="#000" stroke-width="1.15"/>
<circle cx="786.3" cy="110.3" r="4.7" fill="#fff" stroke="#000" stroke-width="1.15"/>
<circle cx="793.7" cy="103.7" r="4.7" fill="#fff" stroke="#000" stroke-width="1.15"/>
<circle cx="801.1" cy="99.9" r="4.7" fill="#fff" stroke="#000" stroke-width="1.15"/>
<circle cx="808.5" cy="98.4" r="4.7" fill="#fff" stroke="#000" stroke-width="1.15"/>
<circle cx="815.9" cy="98.1" r="4.7" fill="#fff" stroke="#000" stroke-width="1.15"/>
<circle cx="823.2" cy="97.7" r="4.7" fill="#fff" stroke="#000" stroke-width="1.15"/>
<polyline fill="none" stroke="#000" stroke-width="1" points="91.4,97.5 156.2,97.5 156.2,97.5 160.7,126.0 165.2,153.4 169.7,179.9 174.2,205.4 178.7,229.9 183.2,253.5 187.7,276.3 192.2,298.2 196.7,319.2 201.2,339.4 205.7,358.9 210.2,377.5 214.7,395.5 219.2,412.7 223.7,429.2 228.2,445.0 232.7,460.2 237.2,474.7 241.7,488.6 246.2,501.9 250.7,514.7 255.2,526.9 259.7,538.5 264.2,549.7 268.7,560.3 273.2,570.4 277.7,580.1 282.2,589.3 286.7,598.1 291.2,606.4 295.7,614.4 300.2,622.0 304.7,629.1 309.2,636.0 313.7,642.4 318.2,648.6 322.7,654.4 327.2,659.9 331.7,665.1 336.2,670.1 340.8,674.7 345.3,679.1 349.8,683.3 354.3,687.2 358.8,690.8 363.3,694.3 367.8,697.6 372.3,700.6 376.8,703.5 381.3,706.2 385.8,708.7 390.3,711.0 394.8,713.2 399.3,715.2 403.8,717.2 408.3,718.9 412.8,720.6 417.3,722.1 421.8,723.5 498.9,723.5 503.4,722.1 507.9,720.6 512.4,718.9 516.9,717.2 521.4,715.2 525.9,713.2 530.4,711.0 534.9,708.7 539.4,706.2 543.9,703.5 548.4,700.6 552.9,697.6 557.4,694.3 561.9,690.8 566.4,687.2 570.9,683.3 575.4,679.1 579.9,674.7 584.5,670.1 589.0,665.1 593.5,659.9 598.0,654.4 602.5,648.6 607.0,642.4 611.5,636.0 616.0,629.1 620.5,622.0 625.0,614.4 629.5,606.4 634.0,598.1 638.5,589.3 643.0,580.1 647.5,570.4 652.0,560.3 656.5,549.7 661.0,538.5 665.5,526.9 670.0,514.7 674.5,501.9 679.0,488.6 683.5,474.7 688.0,460.2 692.5,445.0 697.0,429.2 701.5,412.7 706.0,395.5 710.5,377.5 715.0,358.9 719.5,339.4 724.0,319.2 728.5,298.2 733.0,276.3 737.5,253.5 742.0,229.9 746.5,205.4 751.0,179.9 755.5,153.4 760.0,126.0 764.5,97.5 764.5,97.5 829.3,97.5"/>
<path d="M91.30 64V737.55H830.9" fill="none" stroke="#000" stroke-width="3.3"/>
<line x1="91.4" x2="100.8" y1="724.70" y2="724.70" stroke="#000" stroke-width="1"/>
<line x1="91.4" x2="100.8" y1="711.90" y2="711.90" stroke="#000" stroke-width="1"/>
<line x1="91.4" x2="100.8" y1="699.10" y2="699.10" stroke="#000" stroke-width="1"/>
<line x1="91.4" x2="100.8" y1="686.30" y2="686.30" stroke="#000" stroke-width="1"/>
<line x1="91.4" x2="100.8" y1="660.70" y2="660.70" stroke="#000" stroke-width="1"/>
<line x1="91.4" x2="100.8" y1="647.90" y2="647.90" stroke="#000" stroke-width="1"/>
<line x1="91.4" x2="100.8" y1="635.10" y2="635.10" stroke="#000" stroke-width="1"/>
<line x1="91.4" x2="100.8" y1="622.30" y2="622.30" stroke="#000" stroke-width="1"/>
<line x1="91.4" x2="100.8" y1="596.70" y2="596.70" stroke="#000" stroke-width="1"/>
<line x1="91.4" x2="100.8" y1="583.90" y2="583.90" stroke="#000" stroke-width="1"/>
<line x1="91.4" x2="100.8" y1="571.10" y2="571.10" stroke="#000" stroke-width="1"/>
<line x1="91.4" x2="100.8" y1="558.30" y2="558.30" stroke="#000" stroke-width="1"/>
<line x1="91.4" x2="100.8" y1="532.70" y2="532.70" stroke="#000" stroke-width="1"/>
<line x1="91.4" x2="100.8" y1="519.90" y2="519.90" stroke="#000" stroke-width="1"/>
<line x1="91.4" x2="100.8" y1="507.10" y2="507.10" stroke="#000" stroke-width="1"/>
<line x1="91.4" x2="100.8" y1="494.30" y2="494.30" stroke="#000" stroke-width="1"/>
<line x1="91.4" x2="100.8" y1="468.70" y2="468.70" stroke="#000" stroke-width="1"/>
<line x1="91.4" x2="100.8" y1="455.90" y2="455.90" stroke="#000" stroke-width="1"/>
<line x1="91.4" x2="100.8" y1="443.10" y2="443.10" stroke="#000" stroke-width="1"/>
<line x1="91.4" x2="100.8" y1="430.30" y2="430.30" stroke="#000" stroke-width="1"/>
<line x1="91.4" x2="100.8" y1="404.70" y2="404.70" stroke="#000" stroke-width="1"/>
<line x1="91.4" x2="100.8" y1="391.90" y2="391.90" stroke="#000" stroke-width="1"/>
<line x1="91.4" x2="100.8" y1="379.10" y2="379.10" stroke="#000" stroke-width="1"/>
<line x1="91.4" x2="100.8" y1="366.30" y2="366.30" stroke="#000" stroke-width="1"/>
<line x1="91.4" x2="100.8" y1="340.70" y2="340.70" stroke="#000" stroke-width="1"/>
<line x1="91.4" x2="100.8" y1="327.90" y2="327.90" stroke="#000" stroke-width="1"/>
<line x1="91.4" x2="100.8" y1="315.10" y2="315.10" stroke="#000" stroke-width="1"/>
<line x1="91.4" x2="100.8" y1="302.30" y2="302.30" stroke="#000" stroke-width="1"/>
<line x1="91.4" x2="100.8" y1="276.70" y2="276.70" stroke="#000" stroke-width="1"/>
<line x1="91.4" x2="100.8" y1="263.90" y2="263.90" stroke="#000" stroke-width="1"/>
<line x1="91.4" x2="100.8" y1="251.10" y2="251.10" stroke="#000" stroke-width="1"/>
<line x1="91.4" x2="100.8" y1="238.30" y2="238.30" stroke="#000" stroke-width="1"/>
<line x1="91.4" x2="100.8" y1="212.70" y2="212.70" stroke="#000" stroke-width="1"/>
<line x1="91.4" x2="100.8" y1="199.90" y2="199.90" stroke="#000" stroke-width="1"/>
<line x1="91.4" x2="100.8" y1="187.10" y2="187.10" stroke="#000" stroke-width="1"/>
<line x1="91.4" x2="100.8" y1="174.30" y2="174.30" stroke="#000" stroke-width="1"/>
<line x1="91.4" x2="100.8" y1="148.70" y2="148.70" stroke="#000" stroke-width="1"/>
<line x1="91.4" x2="100.8" y1="135.90" y2="135.90" stroke="#000" stroke-width="1"/>
<line x1="91.4" x2="100.8" y1="123.10" y2="123.10" stroke="#000" stroke-width="1"/>
<line x1="91.4" x2="100.8" y1="110.30" y2="110.30" stroke="#000" stroke-width="1"/>
<line x1="91.4" x2="100.8" y1="84.70" y2="84.70" stroke="#000" stroke-width="1"/>
<line x1="91.4" x2="100.8" y1="71.90" y2="71.90" stroke="#000" stroke-width="1"/>
<line x1="91.4" x2="107.5" y1="673.50" y2="673.50" stroke="#000" stroke-width="3.2"/>
<line x1="91.4" x2="107.5" y1="609.50" y2="609.50" stroke="#000" stroke-width="3.2"/>
<line x1="91.4" x2="107.5" y1="545.50" y2="545.50" stroke="#000" stroke-width="3.2"/>
<line x1="91.4" x2="107.5" y1="481.50" y2="481.50" stroke="#000" stroke-width="3.2"/>
<line x1="91.4" x2="107.5" y1="417.50" y2="417.50" stroke="#000" stroke-width="3.2"/>
<line x1="91.4" x2="107.5" y1="353.50" y2="353.50" stroke="#000" stroke-width="3.2"/>
<line x1="91.4" x2="107.5" y1="289.50" y2="289.50" stroke="#000" stroke-width="3.2"/>
<line x1="91.4" x2="107.5" y1="225.50" y2="225.50" stroke="#000" stroke-width="3.2"/>
<line x1="91.4" x2="107.5" y1="161.50" y2="161.50" stroke="#000" stroke-width="3.2"/>
<line x1="91.4" x2="107.5" y1="97.50" y2="97.50" stroke="#000" stroke-width="3.2"/>
<line y1="737.5" y2="728.1" x1="128.30" x2="128.30" stroke="#000" stroke-width="1"/>
<line y1="737.5" y2="728.1" x1="165.19" x2="165.19" stroke="#000" stroke-width="1"/>
<line y1="737.5" y2="728.1" x1="202.09" x2="202.09" stroke="#000" stroke-width="1"/>
<line y1="737.5" y2="728.1" x1="275.88" x2="275.88" stroke="#000" stroke-width="1"/>
<line y1="737.5" y2="728.1" x1="312.77" x2="312.77" stroke="#000" stroke-width="1"/>
<line y1="737.5" y2="728.1" x1="349.67" x2="349.67" stroke="#000" stroke-width="1"/>
<line y1="737.5" y2="728.1" x1="423.46" x2="423.46" stroke="#000" stroke-width="1"/>
<line y1="737.5" y2="728.1" x1="460.35" x2="460.35" stroke="#000" stroke-width="1"/>
<line y1="737.5" y2="728.1" x1="497.25" x2="497.25" stroke="#000" stroke-width="1"/>
<line y1="737.5" y2="728.1" x1="571.03" x2="571.03" stroke="#000" stroke-width="1"/>
<line y1="737.5" y2="728.1" x1="607.93" x2="607.93" stroke="#000" stroke-width="1"/>
<line y1="737.5" y2="728.1" x1="644.82" x2="644.82" stroke="#000" stroke-width="1"/>
<line y1="737.5" y2="728.1" x1="718.62" x2="718.62" stroke="#000" stroke-width="1"/>
<line y1="737.5" y2="728.1" x1="755.51" x2="755.51" stroke="#000" stroke-width="1"/>
<line y1="737.5" y2="728.1" x1="792.40" x2="792.40" stroke="#000" stroke-width="1"/>
<line y1="737.5" y2="721.4" x1="238.98" x2="238.98" stroke="#000" stroke-width="3.2"/>
<line y1="737.5" y2="721.4" x1="386.56" x2="386.56" stroke="#000" stroke-width="3.2"/>
<line y1="737.5" y2="721.4" x1="534.14" x2="534.14" stroke="#000" stroke-width="3.2"/>
<line y1="737.5" y2="721.4" x1="681.72" x2="681.72" stroke="#000" stroke-width="3.2"/>
<line y1="737.5" y2="721.4" x1="829.30" x2="829.30" stroke="#000" stroke-width="3.2"/>
<line x1="234" x2="396.1" y1="47.5" y2="47.5" stroke="#000" stroke-width="1"/>
<line x1="234" x2="396.1" y1="90.7" y2="90.7" stroke="#000" stroke-width="1"/>
<line x1="234" x2="396.1" y1="134.0" y2="134.0" stroke="#000" stroke-width="1"/>
<line x1="234" x2="396.1" y1="177.4" y2="177.4" stroke="#000" stroke-width="1"/>
<line x1="234" x2="396.1" y1="220.7" y2="220.7" stroke="#000" stroke-width="1"/>
<rect x="312.0" y="44.3" width="6.4" height="6.4" fill="#000"/>
<path d="M315.2 83.9L321.0 94.5L309.4 94.5Z" fill="#fff" stroke="#000" stroke-width="1.1"/>
<path d="M315.2 128.7L320.5 134.0L315.2 139.3L309.9 134.0Z" fill="#000"/>
<circle cx="315.2" cy="177.4" r="4.7" fill="#fff" stroke="#000" stroke-width="1.15"/>
<text x="423.0" y="58.5" font-family="Liberation Serif" font-weight="bold" font-size="36.1">MLP</text>
<text x="423.0" y="101.7" font-family="Liberation Serif" font-weight="bold" font-size="36.1">MLP-pw</text>
<text x="423.0" y="145.0" font-family="Liberation Serif" font-weight="bold" font-size="36.1">Venkatakrishnan</text>
<text x="423.0" y="188.4" font-family="Liberation Serif" font-weight="bold" font-size="36.1">Barth-Jespersen</text>
<text x="423.0" y="231.7" font-family="Liberation Serif" font-weight="bold" font-size="36.1">exact</text>
<text transform="translate(82.3,746.5) scale(1.06,1.125)" text-anchor="end" letter-spacing="-0.6" font-family="Liberation Serif" font-size="24">0</text>
<text transform="translate(82.3,682.5) scale(1.06,1.125)" text-anchor="end" letter-spacing="-0.6" font-family="Liberation Serif" font-size="24">0.1</text>
<text transform="translate(82.3,618.5) scale(1.06,1.125)" text-anchor="end" letter-spacing="-0.6" font-family="Liberation Serif" font-size="24">0.2</text>
<text transform="translate(82.3,554.5) scale(1.06,1.125)" text-anchor="end" letter-spacing="-0.6" font-family="Liberation Serif" font-size="24">0.3</text>
<text transform="translate(82.3,490.5) scale(1.06,1.125)" text-anchor="end" letter-spacing="-0.6" font-family="Liberation Serif" font-size="24">0.4</text>
<text transform="translate(82.3,426.5) scale(1.06,1.125)" text-anchor="end" letter-spacing="-0.6" font-family="Liberation Serif" font-size="24">0.5</text>
<text transform="translate(82.3,362.5) scale(1.06,1.125)" text-anchor="end" letter-spacing="-0.6" font-family="Liberation Serif" font-size="24">0.6</text>
<text transform="translate(82.3,298.5) scale(1.06,1.125)" text-anchor="end" letter-spacing="-0.6" font-family="Liberation Serif" font-size="24">0.7</text>
<text transform="translate(82.3,234.5) scale(1.06,1.125)" text-anchor="end" letter-spacing="-0.6" font-family="Liberation Serif" font-size="24">0.8</text>
<text transform="translate(82.3,170.5) scale(1.06,1.125)" text-anchor="end" letter-spacing="-0.6" font-family="Liberation Serif" font-size="24">0.9</text>
<text transform="translate(80.9,106.8) scale(0.80,1.09)" text-anchor="end" letter-spacing="-0.6" font-family="Liberation Serif" font-size="24">1</text>
<text transform="translate(91.3,762.6) scale(1.06,1.125)" text-anchor="middle" letter-spacing="-0.6" font-family="Liberation Serif" font-size="24">0</text>
<text transform="translate(238.9,762.6) scale(1.06,1.125)" text-anchor="middle" letter-spacing="-0.6" font-family="Liberation Serif" font-size="24">0.2</text>
<text transform="translate(386.5,762.6) scale(1.06,1.125)" text-anchor="middle" letter-spacing="-0.6" font-family="Liberation Serif" font-size="24">0.4</text>
<text transform="translate(534.0,762.6) scale(1.06,1.125)" text-anchor="middle" letter-spacing="-0.6" font-family="Liberation Serif" font-size="24">0.6</text>
<text transform="translate(681.6,762.6) scale(1.06,1.125)" text-anchor="middle" letter-spacing="-0.6" font-family="Liberation Serif" font-size="24">0.8</text>
<text transform="translate(829.5,762.6) scale(0.80,1.09)" text-anchor="middle" letter-spacing="-0.6" font-family="Liberation Serif" font-size="24">1</text>
<text x="460.7" y="791.7" text-anchor="middle" font-family="Liberation Serif" font-weight="bold" font-size="32">x</text>
<text transform="translate(37.8,401.2) rotate(-90)" text-anchor="middle" font-family="Liberation Serif" font-weight="bold" font-size="32.3">Density</text>
</svg>
</body></html>
